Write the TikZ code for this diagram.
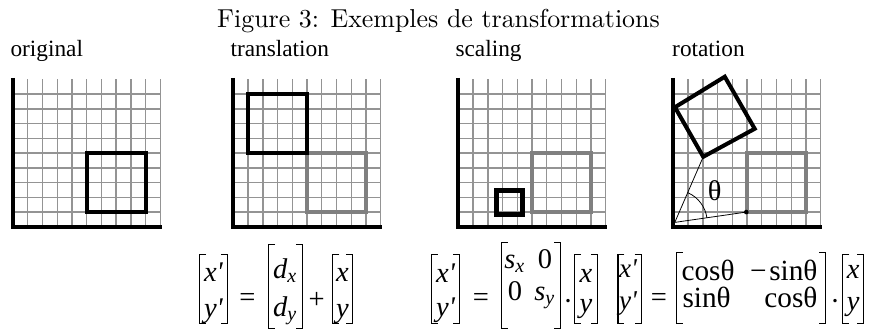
\documentclass[tikz,border=0pt]{standalone}
\usepackage{fontspec}
\usepackage{tikz}
\newfontfamily\tms{Liberation Serif}

\begin{document}
\begin{tikzpicture}[
  x=0.01357cm, y=-0.01357cm,
  gridln/.style={draw=black!42,line width=0.55pt},
  axisln/.style={line width=1.6pt},
  newsq/.style={line width=1.55pt,line join=miter},
  oldsq/.style={draw=black!50,line width=1.6pt},
  guide/.style={line width=0.3pt},
  lbl/.style={font=\tms\fontsize{9}{9}\selectfont,anchor=base west,inner sep=0pt},
  frm/.style={inner sep=0pt,draw=none},
  brk/.style={line width=0.45pt},
  ent/.style={inner sep=0pt,anchor=base,font=\tms\itshape\fontsize{11}{11}\selectfont},
  fn/.style={inner sep=0pt,font=\tms\fontsize{11.3}{11.3}\selectfont},
  op/.style={inner sep=0pt,font=\tms\fontsize{11}{11}\selectfont}
]
  \useasboundingbox (0,0) rectangle (885,329);

  \node[anchor=base,inner sep=0pt] (title) at (438.5,27) {Figure 3: Exemples de transformations};

  % panel titles
  \node[lbl] (lorig) at (10,56.7) {original};
  \node[lbl] (ltrans) at (230,56.7) {translation};
  \node[lbl] (lscal) at (455,56.7) {scaling};
  \node[lbl] (lrot) at (671.7,56.7) {rotation};

  % grids and axes
  \foreach \ox in {13,233.3,458.3,673.3} {
    \begin{scope}[shift={(\ox,226.8)},x=0.2cm,y=0.2cm]
      \foreach \i in {1,...,10} \draw[gridln] (\i,0) -- (\i,10.05);
      \foreach \j in {1,...,9} \draw[gridln] (0,\j) -- (10,\j);
      \draw[axisln] (0,10.1) -- (0,0) -- (10.1,0);
    \end{scope}
  }

  % original
  \begin{scope}[shift={(13,226.8)},x=0.2cm,y=0.2cm]
    \draw[newsq] (5,1) rectangle (9,5);
  \end{scope}

  % translation
  \begin{scope}[shift={(233.3,226.8)},x=0.2cm,y=0.2cm]
    \draw[oldsq] (5,1) rectangle (9,5);
    \draw[newsq] (1,5) rectangle (5,9);
  \end{scope}

  % scaling
  \begin{scope}[shift={(458.3,226.8)},x=0.2cm,y=0.2cm]
    \draw[oldsq] (5,1) rectangle (9,5);
    \draw[newsq,line width=1.9pt] (2.6,0.85) rectangle (4.35,2.45);
  \end{scope}

  % rotation
  \begin{scope}[shift={(673.3,226.8)},x=0.2cm,y=0.2cm]
    \draw[oldsq] (5,1) rectangle (9,5);
    \coordinate (o) at (0.1,0.3);
    \coordinate (ra) at (0.11,8.11);
    \coordinate (rb) at (3.49,10.18);
    \coordinate (rc) at (5.52,6.65);
    \coordinate (rd) at (2.03,4.75);
    \coordinate (q) at (4.95,1);
    \draw[newsq] (ra) -- (rb) -- (rc) -- (rd) -- cycle;
    \draw[guide] (o) -- (rd) (o) -- (q);
    \fill (q) circle (0.9pt);
    \draw[guide] ([shift={(8:2.2)}]o) arc[start angle=8,end angle=66,radius=2.2];
    \node[op] (theta) at (2.81,2.48) {θ};
  \end{scope}

  % matrix frames
  \node[frm,minimum width=0.362cm,minimum height=0.923cm] (t1) at (213.4,289) {};
  \node[frm,minimum width=0.444cm,minimum height=1.126cm] (t2) at (285.4,286.5) {};
  \node[frm,minimum width=0.25cm,minimum height=0.923cm] (t3) at (342.5,289) {};
  \node[frm,minimum width=0.375cm,minimum height=0.923cm] (s1) at (445.5,289) {};
  \node[frm,minimum width=0.791cm,minimum height=1.153cm] (s2) at (530.9,285.5) {};
  \node[frm,minimum width=0.294cm,minimum height=0.923cm] (s3) at (585.9,289) {};
  \node[frm,minimum width=0.3cm,minimum height=0.923cm] (r1) at (629.5,289) {};
  \node[frm,minimum width=2.012cm,minimum height=0.95cm] (r2) at (750.9,288) {};
  \node[frm,minimum width=0.271cm,minimum height=0.923cm] (r3) at (853.3,289) {};
  \foreach \m in {t1,t2,t3,s1,s2,s3,r1,r2,r3}
    \draw[brk] ([xshift=2.5pt]\m.north west) -| (\m.south west) -- ++(2.5pt,0)
               ([xshift=-2.5pt]\m.north east) -| (\m.south east) -- ++(-2.5pt,0);

  % translation: entries
  \node[ent] (t1a) at (213.4,281) {x'};
  \node[ent] (t1b) at (213.4,317) {y'};
  \node[op] (eqt) at (247.5,300) {=};
  \node[ent] (t2a) at (285.4,278) {d\textsubscript{x}};
  \node[ent] (t2b) at (285.4,316) {d\textsubscript{y}};
  \node[op] (plus) at (316.7,300) {+};
  \node[ent] (t3a) at (342.5,281) {x};
  \node[ent] (t3b) at (342.5,317) {y};

  % scaling: entries
  \node[ent] (s1a) at (445.5,282) {x'};
  \node[ent] (s1b) at (445.5,316) {y'};
  \node[op] (eqs) at (481,300) {=};
  \node[ent] (s2a) at (515,268) {s\textsubscript{x}};
  \node[ent] (s2b) at (545,268) {\upshape 0};
  \node[ent] (s2c) at (515,300) {\upshape 0};
  \node[ent] (s2d) at (545,300) {s\textsubscript{y}};
  \node[op] (dots) at (568,305) {·};
  \node[ent] (s3a) at (585.9,282) {x};
  \node[ent] (s3b) at (585.9,312) {y};

  % rotation: entries
  \node[ent,font=\tms\itshape\fontsize{10.5}{10.5}\selectfont] (r1a) at (628,277) {x'};
  \node[ent,font=\tms\itshape\fontsize{10.5}{10.5}\selectfont] (r1b) at (628,309) {y'};
  \node[op] (eqr) at (659,300) {=};
  \node[fn,anchor=base west] (r2a) at (681,280) {cosθ};
  \node[fn,anchor=base east] (r2b) at (818,280) {−\kern1pt sinθ};
  \node[fn,anchor=base west] (r2c) at (682,307) {sinθ};
  \node[fn,anchor=base east] (r2d) at (818,307) {cosθ};
  \node[op] (dotr) at (835,305) {·};
  \node[ent] (r3a) at (853.3,278) {x};
  \node[ent] (r3b) at (853.3,310) {y};
\end{tikzpicture}
\end{document}
